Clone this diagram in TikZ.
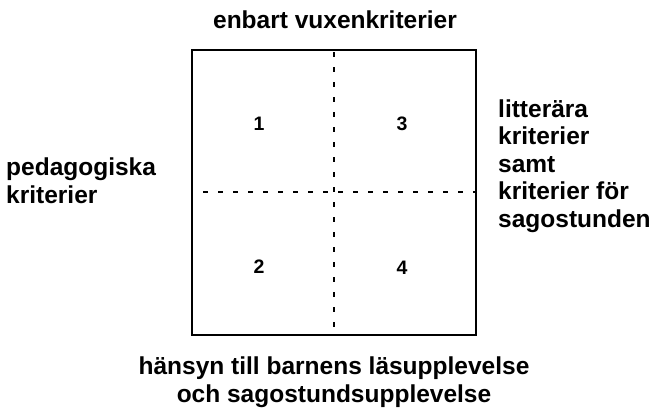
\documentclass[tikz,border=0pt]{standalone}
\usepackage{fontspec}
\setmainfont{Liberation Sans}
\begin{document}
\begin{tikzpicture}[x=1pt,y=-1pt,
  lbl/.style={font=\fontsize{24.5}{27.5}\selectfont\bfseries, inner sep=0pt, align=left},
  num/.style={font=\fontsize{19.5}{20}\selectfont\bfseries, inner sep=0pt},
  frame/.style={draw=black, line width=2pt},
  divider/.style={draw=black, line width=2pt, dash pattern=on 5pt off 10pt}]
\useasboundingbox (0,0) rectangle (657,408);
\coordinate (tl) at (192,50);
\coordinate (br) at (476,335);
\draw[frame] (tl) rectangle (br);
\coordinate (vt) at (334,52);
\coordinate (vb) at (334,335);
\coordinate (hl) at (203,192);
\coordinate (hr) at (476,192);
\draw[divider] (vt) -- (vb);
\draw[divider] (hl) -- (hr);
\node[num] (n1) at (259,124) {1};
\node[num] (n3) at (402,124) {3};
\node[num] (n2) at (259,267) {2};
\node[num] (n4) at (402,268) {4};
\node[lbl, anchor=base] (top) at (335,28) {enbart vuxenkriterier};
\node[lbl, anchor=base west] (left) at (6,203) {pedagogiska\\kriterier};
\node[lbl, anchor=base west] (right) at (498,227) {litterära\\kriterier\\samt\\kriterier för\\sagostunden};
\node[lbl, anchor=base, align=center] (bottom) at (334,402) {hänsyn till barnens läsupplevelse\\och sagostundsupplevelse};
\end{tikzpicture}
\end{document}
